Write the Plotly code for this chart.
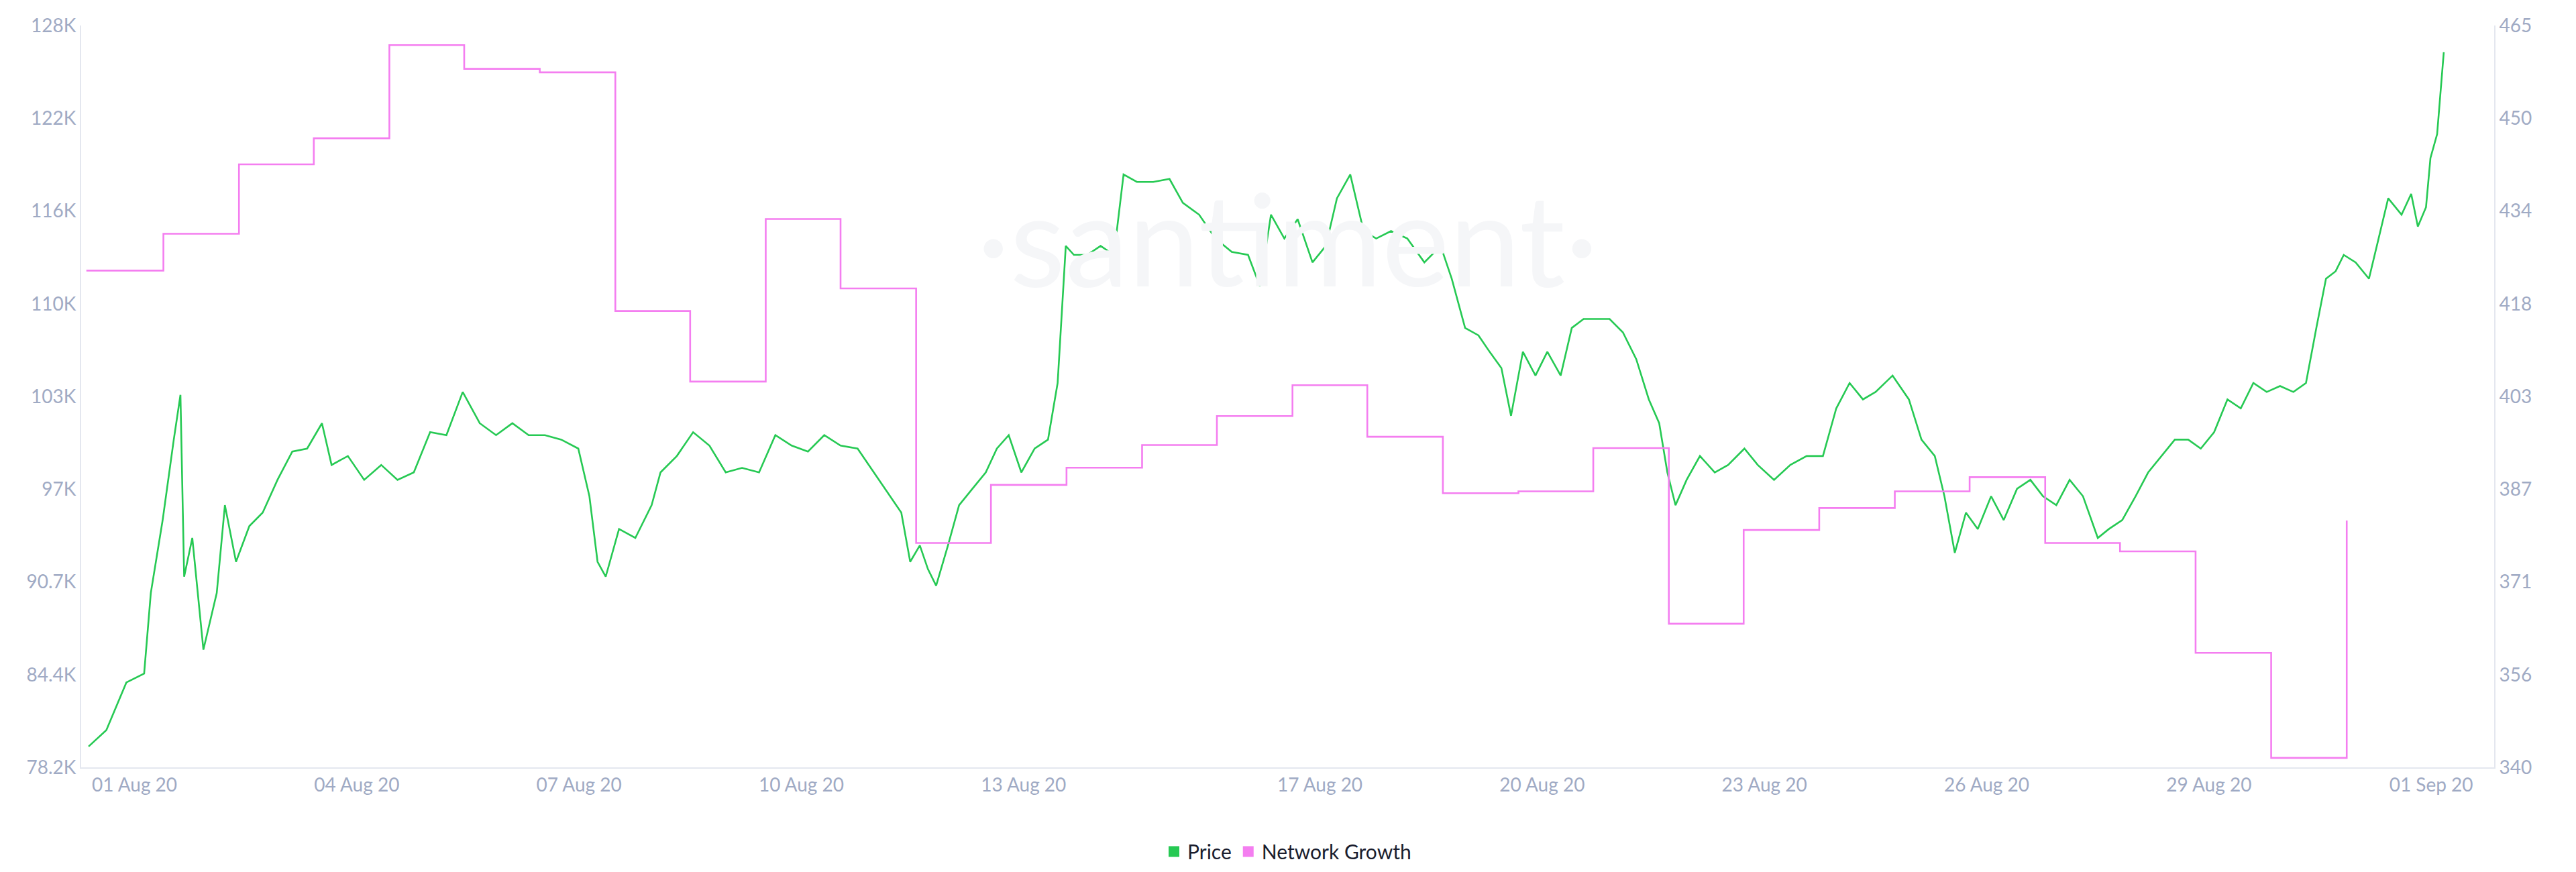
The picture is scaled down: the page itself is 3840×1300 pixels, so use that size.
import datetime as dt
import plotly.graph_objects as go

# Price (USD, thousands) — day offsets from 01 Aug 2020 00:00
price_day = [-0.62, -0.38, -0.11, 0.13, 0.22, 0.38, 0.53, 0.62, 0.67, 0.78, 0.93, 1.11, 1.22, 1.37, 1.55,
             1.73, 1.93, 2.13, 2.33, 2.53, 2.66, 2.88, 3.10, 3.33, 3.55, 3.77, 3.99, 4.21, 4.43, 4.66,
             4.88, 5.10, 5.32, 5.54, 5.76, 5.99, 6.14, 6.25, 6.36, 6.54, 6.76, 6.98, 7.10, 7.32, 7.54,
             7.76, 7.98, 8.20, 8.43, 8.65, 8.87, 9.09, 9.31, 9.53, 9.76, 9.98, 10.20, 10.35, 10.47, 10.60,
             10.71, 10.82, 10.98, 11.13, 11.31, 11.49, 11.64, 11.80, 11.97, 12.15, 12.33, 12.46, 12.57, 12.68, 12.86,
             13.04, 13.22, 13.35, 13.53, 13.75, 13.97, 14.15, 14.37, 14.59, 14.81, 15.03, 15.19, 15.34, 15.52, 15.70,
             15.90, 16.08, 16.23, 16.41, 16.59, 16.76, 16.96, 17.18, 17.41, 17.63, 17.78, 17.96, 18.14, 18.29, 18.45,
             18.58, 18.74, 18.91, 19.07, 19.25, 19.40, 19.56, 19.73, 19.91, 20.09, 20.27, 20.44, 20.58, 20.69, 20.80,
             20.95, 21.13, 21.33, 21.51, 21.73, 21.91, 22.13, 22.35, 22.57, 22.79, 22.97, 23.15, 23.33, 23.50, 23.73,
             23.95, 24.12, 24.30, 24.43, 24.57, 24.72, 24.88, 25.06, 25.23, 25.41, 25.59, 25.76, 25.94, 26.12, 26.30,
             26.50, 26.65, 26.83, 27.01, 27.18, 27.36, 27.54, 27.72, 27.89, 28.07, 28.25, 28.43, 28.60, 28.78, 28.96,
             29.14, 29.31, 29.45, 29.58, 29.71, 29.82, 29.98, 30.16, 30.29, 30.42, 30.60, 30.73, 30.82, 30.93, 30.99,
             31.08, 31.17]
price_k = [79.6, 80.7, 83.9, 84.5, 89.9, 94.8, 100.2, 103.2, 91.0, 93.6, 86.1, 89.9, 95.8, 92.0, 94.4,
           95.3, 97.5, 99.4, 99.6, 101.3, 98.5, 99.1, 97.5, 98.5, 97.5, 98.0, 100.7, 100.5, 103.4, 101.3,
           100.5, 101.3, 100.5, 100.5, 100.2, 99.6, 96.4, 92.0, 91.0, 94.2, 93.6, 95.8, 98.0, 99.1, 100.7,
           99.8, 98.0, 98.3, 98.0, 100.5, 99.8, 99.4, 100.5, 99.8, 99.6, 98.0, 96.4, 95.3, 92.0, 93.1,
           91.5, 90.4, 93.1, 95.8, 96.9, 98.0, 99.6, 100.5, 98.0, 99.6, 100.2, 104.0, 113.2, 112.6, 112.6,
           113.2, 112.6, 118.0, 117.5, 117.5, 117.7, 116.1, 115.3, 113.7, 112.8, 112.6, 110.5, 115.3, 113.7, 115.0,
           112.1, 113.2, 116.4, 118.0, 114.2, 113.7, 114.2, 113.7, 112.1, 113.2, 111.0, 107.7, 107.2, 106.1, 105.0,
           101.8, 106.1, 104.5, 106.1, 104.5, 107.7, 108.3, 108.3, 108.3, 107.4, 105.6, 102.9, 101.3, 98.0, 95.8,
           97.5, 99.1, 98.0, 98.5, 99.6, 98.5, 97.5, 98.5, 99.1, 99.1, 102.3, 104.0, 102.9, 103.4, 104.5,
           102.9, 100.2, 99.1, 96.4, 92.6, 95.3, 94.2, 96.4, 94.8, 96.9, 97.5, 96.4, 95.8, 97.5, 96.4,
           93.6, 94.2, 94.8, 96.4, 98.0, 99.1, 100.2, 100.2, 99.6, 100.7, 102.9, 102.3, 104.0, 103.4, 103.8,
           103.4, 104.0, 107.7, 111.0, 111.5, 112.6, 112.1, 111.0, 113.7, 116.4, 115.3, 116.7, 114.5, 115.8, 119.1,
           120.7, 126.2]

# Network Growth — step start offsets (days from 01 Aug)
growth_day = [-0.65, 0.39, 1.41, 2.42, 3.44, 4.45, 5.47, 6.49, 7.50, 8.52,
              9.53, 10.55, 11.56, 12.58, 13.60, 14.61, 15.63, 16.64, 17.66, 18.68,
              19.69, 20.71, 21.72, 22.74, 23.76, 24.77, 25.79, 26.80, 27.82, 28.84, 29.86]
growth = [423.7, 429.9, 441.6, 446.0, 461.7, 457.7, 457.1, 416.9, 405.0, 432.4,
          420.7, 377.8, 387.6, 390.5, 394.3, 399.2, 404.4, 395.7, 386.2, 386.5,
          393.8, 364.2, 380.0, 383.7, 386.5, 388.9, 377.8, 376.4, 359.3, 341.6, 381.6]

left_ticks = [78.2, 84.4, 90.7, 97.0, 103.0, 110.0, 116.0, 122.0, 128.0]
right_ticks = [340, 356, 371, 387, 403, 418, 434, 450, 465]
date_ticks = ["01 Aug 20", "04 Aug 20", "07 Aug 20", "10 Aug 20", "13 Aug 20", "17 Aug 20",
              "20 Aug 20", "23 Aug 20", "26 Aug 20", "29 Aug 20", "01 Sep 20"]

GREEN, PINK = "#26c953", "#f47ef0"
base = dt.datetime(2020, 8, 1)
to_dt = lambda d: base + dt.timedelta(days=d)

fig = go.Figure()
fig.add_trace(go.Scatter(x=[to_dt(d) for d in price_day], y=[v * 1000 for v in price_k],
                         name="Price", mode="lines", line=dict(color=GREEN, width=2.6), showlegend=False))
fig.add_trace(go.Scatter(x=[to_dt(d) for d in growth_day], y=growth, yaxis="y2",
                         name="Network Growth", mode="lines", line=dict(color=PINK, width=2.6, shape="hv"),
                         showlegend=False))
# legend entries with square swatches
for name, col in [("Price", GREEN), ("Network Growth", PINK)]:
    fig.add_trace(go.Scatter(x=[None], y=[None], name=name, mode="markers",
                             marker=dict(symbol="square", size=20, color=col)))

axis_font = dict(family="Lato", size=28, color="#9faac4")
lo, hi = 78.2, 128.0
fig.update_layout(
    width=3840, height=1300,
    paper_bgcolor="white", plot_bgcolor="white",
    margin=dict(l=113, r=130, t=20, b=154),
    font=dict(family="Lato"),
    xaxis=dict(range=[to_dt(-0.72), to_dt(31.85)], showgrid=False, zeroline=False,
               showline=True, linecolor="#e4e7ef", linewidth=2,
               tickvals=[dt.datetime.strptime(t, "%d %b %y") for t in date_ticks],
               ticktext=date_ticks, tickfont=axis_font, ticks=""),
    yaxis=dict(range=[lo * 1000, hi * 1000], showgrid=False, zeroline=False,
               showline=True, linecolor="#e4e7ef", linewidth=2,
               tickvals=[lo * 1000 + i * (hi - lo) * 1000 / 8 for i in range(9)],
               ticktext=[f"{t:g}K" for t in left_ticks], tickfont=axis_font),
    yaxis2=dict(range=[340, 465], overlaying="y", side="right", showgrid=False, zeroline=False,
                showline=True, linecolor="#e4e7ef", linewidth=2,
                tickvals=[340 + i * 125 / 8 for i in range(9)],
                ticktext=[str(t) for t in right_ticks], tickfont=axis_font),
    legend=dict(orientation="h", x=0.5, xanchor="center", y=-0.09, yanchor="top",
                font=dict(size=30, color="#1a1d2e"), itemwidth=30),
)
fig.add_annotation(text="·santiment·", x=0.5, y=0.82, xref="paper", yref="paper", showarrow=False,
                   font=dict(family="Lato", size=190, color="#f5f6f8"))

fig.write_html("out.html")
